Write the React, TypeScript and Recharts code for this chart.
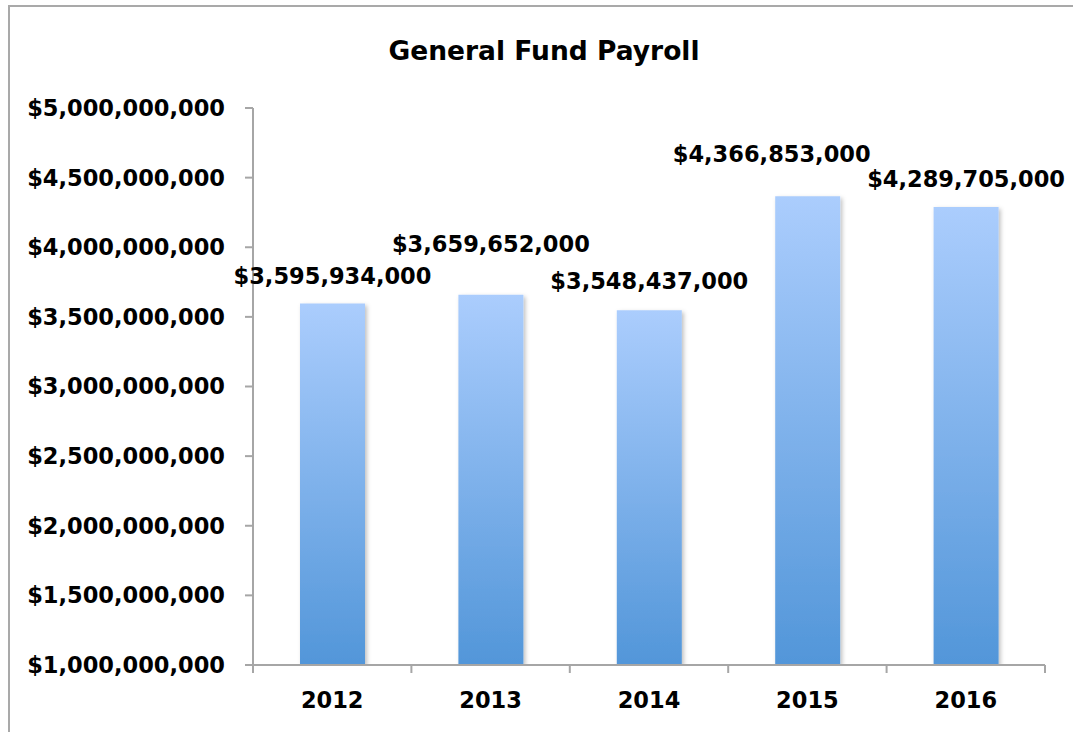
import React from "react";
import { Bar, BarChart, LabelList, XAxis, YAxis } from "recharts";

const years = ["2012", "2013", "2014", "2015", "2016"];
const payroll = [3595934000, 3659652000, 3548437000, 4366853000, 4289705000];
const yTicks = [1e9, 1.5e9, 2e9, 2.5e9, 3e9, 3.5e9, 4e9, 4.5e9, 5e9];
const edgeTicks = [0, 1, 2, 3, 4, 5];

// Excel-style hand-placed label nudges (dx, dy above the bar top)
const labelNudge = [
  { dx: 0, dy: 28 },
  { dx: 0, dy: 51 },
  { dx: 0, dy: 29 },
  { dx: -36, dy: 42 },
  { dx: 0, dy: 28 },
];

const data = years.map((year, i) => ({ year, idx: i + 0.5, value: payroll[i] }));

const FONT = "'DejaVu Sans', Verdana, sans-serif";
const AXIS = "#a6a6a6";
const LABEL_SIZE = 22.5;

const money = (v: number) => "$" + v.toLocaleString("en-US");

function ValueLabel(props: any) {
  const { x, y, width, value, index } = props;
  const n = labelNudge[index] ?? { dx: 0, dy: 28 };
  return (
    <text
      x={x + width / 2 + n.dx}
      y={y - n.dy}
      textAnchor="middle"
      dominantBaseline="central"
      fontFamily={FONT}
      fontWeight="bold"
      fontSize={LABEL_SIZE}
      fill="#000"
    >
      {money(value)}
    </text>
  );
}

export default function App() {
  return (
    <div
      style={{
        position: "fixed",
        left: 0,
        top: 0,
        width: 1073,
        height: 732,
        overflow: "hidden",
        background: "#fff",
      }}
    >
      <div
        style={{
          position: "absolute",
          left: 8,
          top: 5,
          width: 1120,
          height: 800,
          border: "2px solid #a9a9a9",
        }}
      />
      <div
        style={{
          position: "absolute",
          left: 0,
          width: 1088,
          top: 35,
          textAlign: "center",
          fontFamily: FONT,
          fontWeight: "bold",
          fontSize: 26.5,
          color: "#000",
        }}
      >
        General Fund Payroll
      </div>
      <div style={{ position: "absolute", left: 0, top: 0 }}>
        <BarChart
          width={1073}
          height={732}
          data={data}
          margin={{ top: 108, right: 28, bottom: 0, left: 0 }}
        >
          <defs>
            <linearGradient id="barFill" x1="0" y1="0" x2="0" y2="1">
              <stop offset="0%" stopColor="#abcdfd" />
              <stop offset="100%" stopColor="#5296d9" />
            </linearGradient>
            <filter id="barShadow" x="-20%" y="-10%" width="140%" height="120%">
              <feDropShadow dx="2" dy="2" stdDeviation="2" floodColor="#000" floodOpacity="0.25" />
            </filter>
          </defs>
          <XAxis
            xAxisId="a"
            type="number"
            dataKey="idx"
            domain={[0, 5]}
            ticks={edgeTicks}
            interval={0}
            axisLine={{ stroke: AXIS, strokeWidth: 2 }}
            tickLine={{ stroke: AXIS, strokeWidth: 2 }}
            tickSize={8}
            tickFormatter={() => ""}
            height={1}
          />
          <XAxis
            dataKey="year"
            xAxisId="b"
            height={66}
            axisLine={false}
            tickLine={false}
            tickMargin={20}
            tick={{ fontFamily: FONT, fontWeight: "bold", fontSize: LABEL_SIZE, fill: "#000" }}
          />
          <YAxis
            width={253}
            domain={[1e9, 5e9]}
            ticks={yTicks}
            allowDataOverflow
            axisLine={{ stroke: AXIS, strokeWidth: 2 }}
            tickLine={{ stroke: AXIS, strokeWidth: 2 }}
            tickSize={8}
            tickMargin={20}
            tickFormatter={money}
            tick={{ fontFamily: FONT, fontWeight: "bold", fontSize: LABEL_SIZE, fill: "#000" }}
          />
          <Bar
            dataKey="value"
            xAxisId="b"
            barSize={65}
            fill="url(#barFill)"
            filter="url(#barShadow)"
            isAnimationActive={false}
          >
            <LabelList dataKey="value" content={<ValueLabel />} />
          </Bar>
        </BarChart>
      </div>
    </div>
  );
}
